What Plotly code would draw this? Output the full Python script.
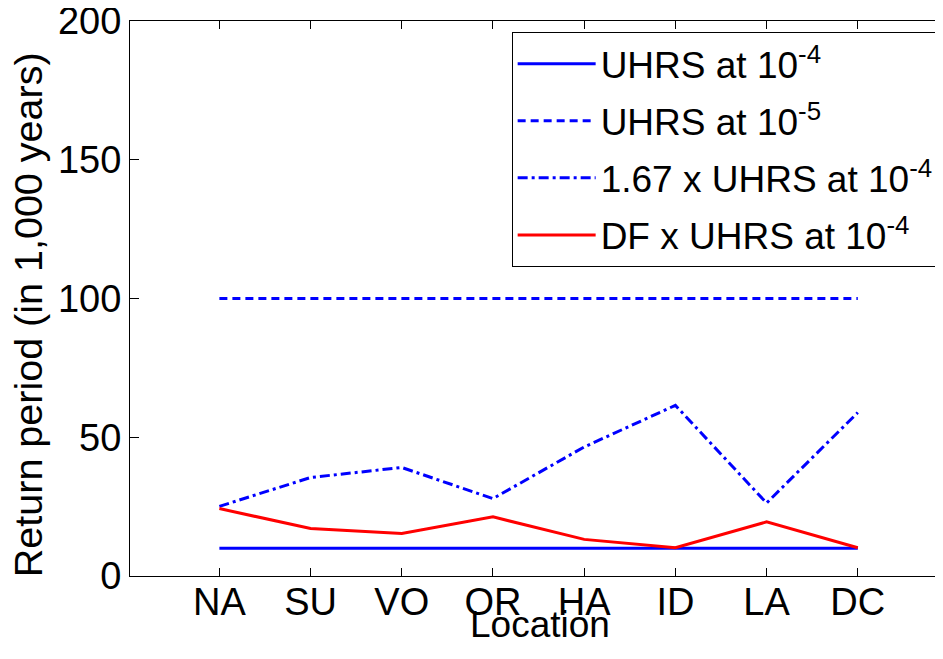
import plotly.graph_objects as go

locations = ["NA", "SU", "VO", "OR", "HA", "ID", "LA", "DC"]
uhrs_1e4 = [10, 10, 10, 10, 10, 10, 10, 10]
uhrs_1e5 = [100, 100, 100, 100, 100, 100, 100, 100]
uhrs_167 = [25.1, 35.5, 39.1, 27.9, 46.5, 61.5, 26.3, 58.9]
df_uhrs = [24.3, 17.1, 15.3, 21.3, 13.2, 10.2, 19.5, 10.2]

x_pos = list(range(1, len(locations) + 1))

FONT = "Liberation Sans, Arial, Helvetica, sans-serif"
BLUE = "#0000FF"
RED = "#FF0000"

fig = go.Figure()
fig.add_trace(go.Scatter(x=x_pos, y=uhrs_1e4, mode="lines", legendgroup="a",
                         name="UHRS at 10<sup>-4</sup>",
                         line=dict(color=BLUE, width=3)))
fig.add_trace(go.Scatter(x=x_pos, y=uhrs_1e5, mode="lines", legendgroup="b",
                         name="UHRS at 10<sup>-5</sup>",
                         line=dict(color=BLUE, width=3, dash="8px,5px")))
fig.add_trace(go.Scatter(x=x_pos, y=uhrs_167, mode="lines", legendgroup="c",
                         name="1.67 x UHRS at 10<sup>-4</sup>",
                         line=dict(color=BLUE, width=3, dash="10px,4px,3px,4px")))
fig.add_trace(go.Scatter(x=x_pos, y=df_uhrs, mode="lines", legendgroup="d",
                         name="DF x UHRS at 10<sup>-4</sup>",
                         line=dict(color=RED, width=3)))

# the page body adds an 8px offset, so margins are set 8px smaller
fig.update_layout(
    width=943,
    height=651,
    margin=dict(l=122, r=2, t=13, b=83),
    paper_bgcolor="white",
    plot_bgcolor="white",
    font=dict(family=FONT, size=38, color="black"),
    showlegend=True,
    legend=dict(
        x=0.466, y=0.98, xanchor="left", yanchor="top",
        bgcolor="white", bordercolor="black", borderwidth=1,
        font=dict(size=37), itemwidth=78,
        traceorder="grouped", tracegroupgap=6,
    ),
    xaxis=dict(
        range=[0.02, 9],
        tickmode="array", tickvals=x_pos, ticktext=locations,
        ticks="inside", ticklen=8, tickcolor="black",
        showline=True, linecolor="black", linewidth=1, mirror="ticks",
        showgrid=False, zeroline=False, automargin=False,
        ticklabelstandoff=-8, ticklabeloverflow="allow",
    ),
    yaxis=dict(
        range=[0, 200],
        tickvals=[0, 50, 100, 150, 200],
        ticks="inside", ticklen=9, tickcolor="black",
        showline=True, linecolor="black", linewidth=1, mirror="ticks",
        showgrid=False, zeroline=False, automargin=False,
        ticklabeloverflow="allow",
    ),
    annotations=[
        dict(text="Location", xref="paper", yref="paper",
             x=0.5, y=-0.088, xanchor="center", yanchor="middle",
             showarrow=False, font=dict(size=37)),
        dict(text="Return period (in 1,000 years)", xref="paper", yref="paper",
             x=-0.1245, y=0.47, xanchor="center", yanchor="middle",
             textangle=-90, showarrow=False, font=dict(size=39.5)),
    ],
)

fig.write_html("out.html")
